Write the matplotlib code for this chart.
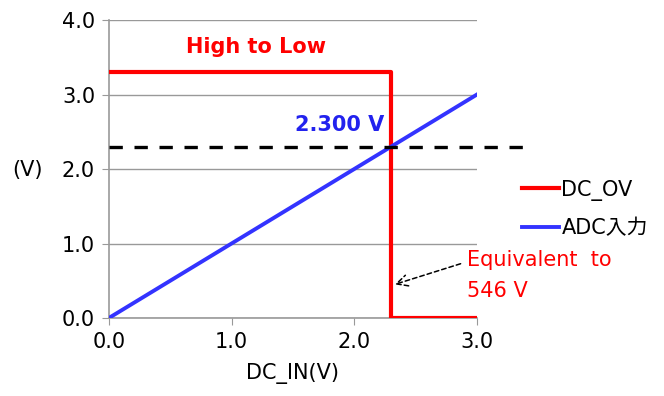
import matplotlib
matplotlib.use("Agg")
import matplotlib.pyplot as plt

plt.rcParams['font.family'] = ['DejaVu Sans', 'Noto Sans CJK JP']

dc_ov_x = [0.0, 2.3, 2.3, 3.0]
dc_ov_y = [3.3, 3.3, 0.0, 0.0]
adc_x = [0.0, 3.0]
adc_y = [0.0, 3.0]
threshold = 2.3
thr_x = [0.0, 3.43]
xticks = [0.0, 1.0, 2.0, 3.0]
yticks = [0.0, 1.0, 2.0, 3.0, 4.0]

FS = 15

fig = plt.figure(figsize=(6.64, 3.96), dpi=100)
ax = fig.add_axes([0.164, 0.197, 0.554, 0.752])
ax.set_xlim(0, 3)
ax.set_ylim(0, 4)
ax.set_xticks(xticks)
ax.set_yticks(yticks)
ax.set_xticklabels([f"{v:.1f}" for v in xticks])
ax.set_yticklabels([f"{v:.1f}" for v in yticks])
ax.yaxis.grid(True, color='#999999', lw=1)
ax.set_axisbelow(True)
for s in ['top', 'right']:
    ax.spines[s].set_visible(False)
for s in ['left', 'bottom']:
    ax.spines[s].set_color('#999999')
    ax.spines[s].set_linewidth(1.2)
ax.tick_params(direction='out', length=5, color='#999999', labelsize=FS, pad=5)

l1, = ax.plot(dc_ov_x, dc_ov_y, color='#ff0000', lw=3, label='DC_OV', zorder=3)
l2, = ax.plot(adc_x, adc_y, color='#3333ff', lw=2.8, label='ADC入力', zorder=3)
ax.plot(thr_x, [threshold, threshold], color='black', lw=2.4, ls=(0, (4, 3.5)), clip_on=False, zorder=4)

ax.set_xlabel('DC_IN(V)', fontsize=FS, labelpad=8)
fig.text(0.018, (396 - 170) / 396, '(V)', fontsize=FS, va='center', ha='left')

ax.text(1.2, 3.64, 'High to Low', color='#ff0000', fontsize=FS, fontweight='bold', ha='center', va='center')
ax.text(1.88, 2.59, f'{threshold:.3f} V', color='#2222ee', fontsize=FS, fontweight='bold', ha='center', va='center')
ax.text(2.92, 0.57, 'Equivalent  to\n546 V', color='#ff0000', fontsize=FS, ha='left', va='center', linespacing=1.65)
ax.annotate('', xy=(2.31, 0.44), xytext=(2.89, 0.74),
            arrowprops=dict(arrowstyle='->', color='black', lw=1.1, ls=(0, (3, 2)), mutation_scale=20))

fig.legend(handles=[l1, l2], loc='center left', bbox_to_anchor=(0.786, (396 - 209) / 396), frameon=False,
           fontsize=FS, handlelength=1.8, handletextpad=0.1, labelspacing=0.85, borderpad=0, borderaxespad=0)

fig.savefig('out.png', dpi=100)
